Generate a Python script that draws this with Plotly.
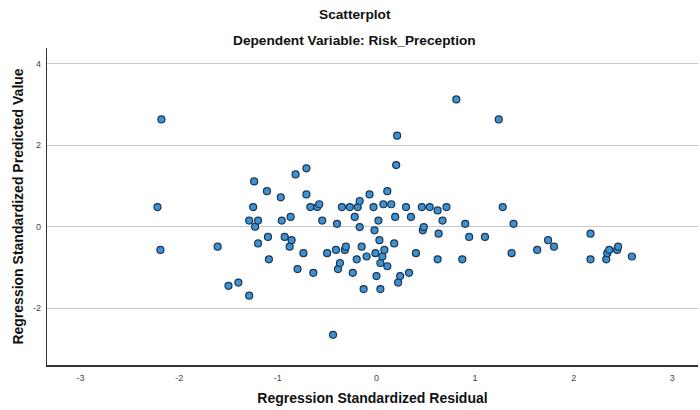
import plotly.graph_objects as go

# Regression diagnostics: standardized residual vs standardized predicted value
std_residual = [
    -2.18, -2.22, -2.19, -1.61, -1.50, -1.40, -1.29, -1.29, -1.25, -1.24,
    -1.23, -1.20, -1.20, -1.11, -1.10, -1.09, -0.97, -0.96, -0.93, -0.88,
    -0.87, -0.86, -0.82, -0.80, -0.74, -0.71, -0.71, -0.67, -0.64, -0.60,
    -0.58, -0.55, -0.50, -0.44, -0.41, -0.40, -0.39, -0.37, -0.35, -0.32,
    -0.31, -0.27, -0.24, -0.22, -0.20, -0.19, -0.17, -0.17, -0.15, -0.13,
    -0.10, -0.07, -0.03, -0.02, -0.01, 0.00, 0.02, 0.03, 0.04, 0.04,
    0.06, 0.07, 0.08, 0.11, 0.11, 0.15, 0.18, 0.19, 0.20, 0.21,
    0.22, 0.24, 0.30, 0.33, 0.35, 0.40, 0.46, 0.47, 0.48, 0.54,
    0.62, 0.62, 0.63, 0.67, 0.71, 0.81, 0.87, 0.90, 0.94, 1.10,
    1.24, 1.28, 1.37, 1.39, 1.63, 1.74, 1.80, 2.17, 2.17, 2.33,
    2.34, 2.36, 2.44, 2.45, 2.59,
]
std_predicted = [
    2.63, 0.48, -0.57, -0.49, -1.45, -1.37, -1.69, 0.15, 0.48, 1.11,
    0.00, 0.15, -0.41, 0.87, -0.25, -0.80, 0.72, 0.15, -0.25, -0.49,
    0.24, -0.33, 1.28, -1.04, -0.65, 1.43, 0.79, 0.48, -1.13, 0.48,
    0.55, 0.15, -0.65, -2.65, -0.57, 0.07, -1.04, -0.89, 0.48, -0.57,
    -0.49, 0.48, -1.13, 0.24, -0.80, 0.48, 0.63, -0.01, -0.49, -1.53,
    -0.73, 0.79, 0.48, -0.09, -0.65, -1.21, 0.15, -0.33, -0.89, -1.53,
    -0.73, 0.55, -0.57, 0.87, -0.97, 0.55, -0.41, 0.24, 1.51, 2.23,
    -1.37, -1.21, 0.48, -1.13, 0.24, -0.65, 0.48, -0.09, -0.01, 0.48,
    0.40, -0.80, -0.17, 0.15, 0.48, 3.12, -0.80, 0.07, -0.25, -0.25,
    2.63, 0.48, -0.65, 0.07, -0.57, -0.33, -0.49, -0.17, -0.80, -0.80,
    -0.65, -0.57, -0.57, -0.49, -0.73,
]

x_ticks = [-3, -2, -1, 0, 1, 2, 3]
y_ticks = [-2, 0, 2, 4]

FONT = "Liberation Sans, Arial, sans-serif"

fig = go.Figure(
    go.Scatter(
        x=std_residual,
        y=std_predicted,
        mode="markers",
        marker=dict(
            size=7,
            color="#3d92d3",
            line=dict(color="#1c3550", width=1.2),
        ),
        hoverinfo="x+y",
    )
)

fig.update_layout(
    width=700,
    height=410,
    margin=dict(l=47, r=2, t=48, b=45),
    paper_bgcolor="white",
    plot_bgcolor="white",
    showlegend=False,
    font=dict(family=FONT, color="#222"),
    annotations=[
        dict(
            text="<b>Scatterplot</b>", xref="paper", yref="paper",
            x=0.473, y=1.0, yshift=43, showarrow=False,
            font=dict(size=13.7, color="#111"),
        ),
        dict(
            text="<b>Dependent Variable: Risk_Preception</b>", xref="paper", yref="paper",
            x=0.473, y=1.0, yshift=17, showarrow=False,
            font=dict(size=13.7, color="#111"),
        ),
    ],
)

fig.update_xaxes(
    range=[-3.34, 3.26],
    tickvals=x_ticks,
    ticktext=[str(v) for v in x_ticks],
    showgrid=False,
    zeroline=False,
    showline=True,
    linecolor="#333",
    linewidth=1.6,
    ticks="",
    tickfont=dict(size=9, color="#444"),
    ticklabelstandoff=3,
    title=dict(
        text="<b>Regression Standardized Residual</b>",
        font=dict(size=14, color="#111"),
        standoff=12,
    ),
)

fig.update_yaxes(
    range=[-3.39, 4.38],
    tickvals=y_ticks,
    ticktext=[str(v) for v in y_ticks],
    showgrid=True,
    gridcolor="#c8c8c8",
    gridwidth=1,
    zeroline=False,
    showline=True,
    linecolor="#333",
    linewidth=1.2,
    ticks="",
    tickfont=dict(size=9, color="#444"),
    ticklabelstandoff=3,
    title=dict(
        text="<b>Regression Standardized Predicted Value</b>",
        font=dict(size=14, color="#111"),
        standoff=6,
    ),
)

fig.write_html("out.html")
